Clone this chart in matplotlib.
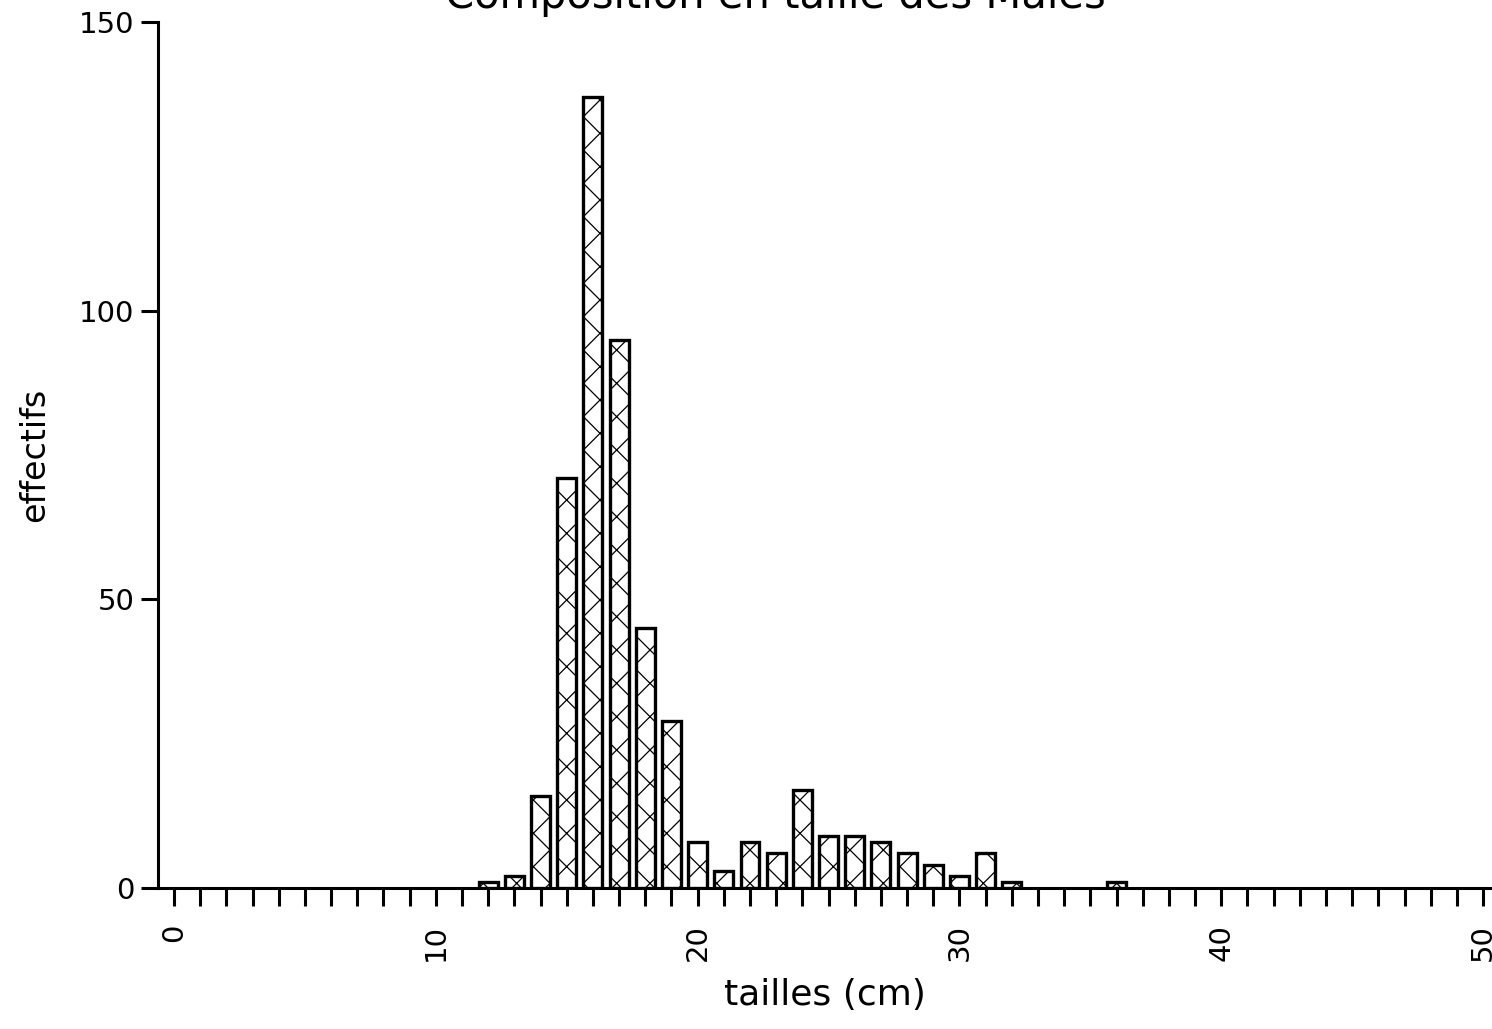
import matplotlib
matplotlib.use("Agg")
import matplotlib.pyplot as plt
from matplotlib.ticker import MultipleLocator

# Size-class counts (cm) for males
tailles = [12, 13, 14, 15, 16, 17, 18, 19, 20, 21, 22, 23, 24, 25, 26,
           27, 28, 29, 30, 31, 32, 36]
effectifs = [1, 2, 16, 71, 137, 95, 45, 29, 8, 3, 8, 6, 17, 9, 9,
             8, 6, 4, 2, 6, 1, 1]

x_major = [0, 10, 20, 30, 40, 50]
y_major = [0, 50, 100, 150]

plt.rcParams['hatch.linewidth'] = 0.9
plt.rcParams['hatch.color'] = '#555555'

fig = plt.figure(figsize=(14.92, 10.29), dpi=100)
ax = fig.add_axes([158 / 1492, 1 - 888 / 1029, 1 - 158 / 1492, (888 - 22) / 1029])

ax.bar(tailles, effectifs, width=0.72, facecolor='white', edgecolor='black',
       linewidth=2.4, hatch='x', zorder=3)

ax.set_xlim(-0.61, 50.34)
ax.set_ylim(0, 150)

for s in ('top', 'right'):
    ax.spines[s].set_visible(False)
ax.spines['left'].set_linewidth(2.2)
ax.spines['bottom'].set_linewidth(2.2)

ax.xaxis.set_minor_locator(MultipleLocator(1))
ax.set_xticks(x_major)
ax.set_xticklabels([str(v) for v in x_major], rotation=90)
ax.set_yticks(y_major)
ax.set_yticklabels([str(v) for v in y_major])

ax.tick_params(axis='x', which='both', direction='out', length=13, width=2.2,
               labelsize=21, pad=13)
ax.tick_params(axis='y', direction='out', length=12, width=2.2, labelsize=21, pad=5)

ax.set_xlabel('tailles (cm)', fontsize=26, labelpad=12)
ax.set_ylabel('effectifs', fontsize=24, labelpad=20)

fig.text(0.52, 1 - 8 / 1029, 'Composition en taille des Males',
         ha='center', va='baseline', fontsize=30)

fig.savefig('out.png', dpi=100, facecolor='white')
